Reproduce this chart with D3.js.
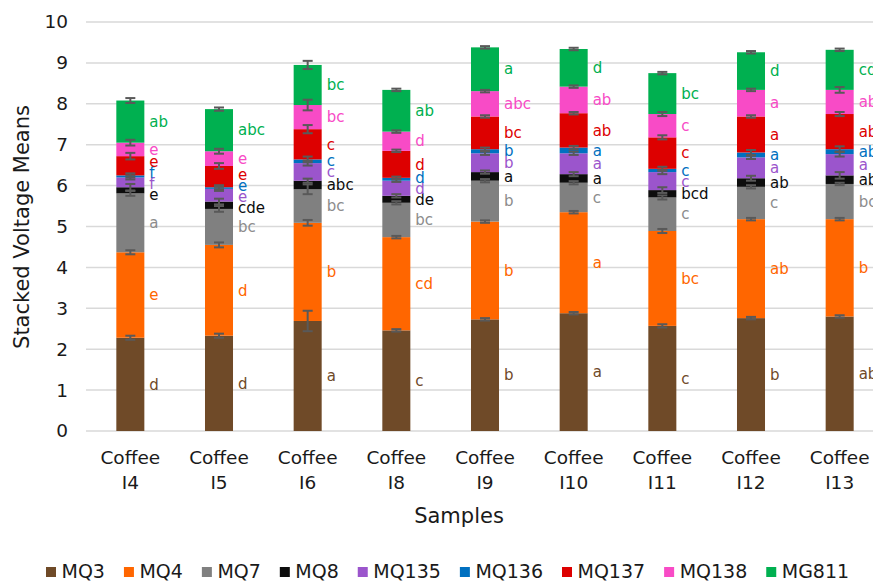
<!DOCTYPE html>
<html>
<head>
<meta charset="utf-8">
<script src="https://cdn.jsdelivr.net/npm/d3@7/dist/d3.min.js"></script>
<style>
  html, body { margin: 0; padding: 0; background: #fff; }
  svg { display: block; font-family: "DejaVu Sans", Verdana, sans-serif; }
</style>
</head>
<body>
<svg id="chart" width="873" height="581"></svg>
<script>
// Samples (x categories)
const samples = ["I4", "I5", "I6", "I8", "I9", "I10", "I11", "I12", "I13"];
const sampleLine1 = "Coffee";

// Sensor series, stacked bottom to top
const sensors = ["MQ3", "MQ4", "MQ7", "MQ8", "MQ135", "MQ136", "MQ137", "MQ138", "MG811"];
const sensorColors = ["#6f4a28", "#ff6600", "#808080", "#0d0d0d", "#9b55cc", "#0070c0", "#dd0000", "#f84bc6", "#00b050"];
const letterColors = ["#6f4a28", "#ff6600", "#8c8c8c", "#0d0d0d", "#9b55cc", "#0070c0", "#dd0000", "#f84bc6", "#00b050"];

// Mean voltage per sensor, one array per sensor, in sample order
const MQ3   = [2.28, 2.33, 2.69, 2.46, 2.73, 2.88, 2.57, 2.76, 2.80];
const MQ4   = [2.09, 2.22, 2.40, 2.28, 2.39, 2.47, 2.32, 2.42, 2.38];
const MQ7   = [1.44, 0.88, 0.82, 0.84, 1.00, 0.72, 0.82, 0.79, 0.86];
const MQ8   = [0.15, 0.18, 0.21, 0.17, 0.21, 0.21, 0.18, 0.21, 0.21];
const MQ135 = [0.24, 0.31, 0.43, 0.37, 0.46, 0.51, 0.44, 0.51, 0.52];
const MQ136 = [0.05, 0.04, 0.09, 0.07, 0.10, 0.14, 0.08, 0.12, 0.12];
const MQ137 = [0.47, 0.52, 0.74, 0.66, 0.80, 0.84, 0.77, 0.88, 0.86];
const MQ138 = [0.33, 0.36, 0.59, 0.47, 0.62, 0.65, 0.57, 0.65, 0.59];
const MG811 = [1.03, 1.03, 0.98, 1.02, 1.07, 0.92, 1.00, 0.92, 0.98];
const means = [MQ3, MQ4, MQ7, MQ8, MQ135, MQ136, MQ137, MQ138, MG811];

// Error (± half range) per sensor
const errMQ3   = [0.05, 0.05, 0.25, 0.03, 0.03, 0.03, 0.04, 0.03, 0.03];
const errMQ4   = [0.05, 0.06, 0.07, 0.03, 0.03, 0.03, 0.05, 0.03, 0.03];
const errMQ7   = [0.06, 0.07, 0.12, 0.04, 0.04, 0.04, 0.05, 0.04, 0.03];
const errMQ8   = [0.08, 0.07, 0.05, 0.04, 0.04, 0.05, 0.07, 0.06, 0.08];
const errMQ135 = [0.05, 0.05, 0.06, 0.03, 0.04, 0.04, 0.05, 0.04, 0.06];
const errMQ136 = [0.05, 0.05, 0.07, 0.03, 0.04, 0.04, 0.05, 0.06, 0.07];
const errMQ137 = [0.08, 0.07, 0.10, 0.03, 0.03, 0.03, 0.05, 0.03, 0.05];
const errMQ138 = [0.07, 0.06, 0.13, 0.03, 0.03, 0.03, 0.05, 0.03, 0.07];
const errMG811 = [0.06, 0.04, 0.10, 0.03, 0.03, 0.03, 0.03, 0.03, 0.03];
const errors = [errMQ3, errMQ4, errMQ7, errMQ8, errMQ135, errMQ136, errMQ137, errMQ138, errMG811];

// Significance letters per sensor
const letMQ3   = ["d", "d", "a", "c", "b", "a", "c", "b", "ab"];
const letMQ4   = ["e", "d", "b", "cd", "b", "a", "bc", "ab", "b"];
const letMQ7   = ["a", "bc", "bc", "bc", "b", "c", "c", "c", "bc"];
const letMQ8   = ["e", "cde", "abc", "de", "a", "a", "bcd", "ab", "ab"];
const letMQ135 = ["f", "e", "c", "d", "b", "a", "c", "a", "a"];
const letMQ136 = ["f", "e", "c", "d", "b", "a", "c", "a", "ab"];
const letMQ137 = ["e", "e", "c", "d", "bc", "ab", "c", "a", "ab"];
const letMQ138 = ["e", "e", "bc", "d", "abc", "ab", "c", "a", "ab"];
const letMG811 = ["ab", "abc", "bc", "ab", "a", "d", "bc", "d", "cd"];
const letters = [letMQ3, letMQ4, letMQ7, letMQ8, letMQ135, letMQ136, letMQ137, letMQ138, letMG811];

const yTicks = [0, 1, 2, 3, 4, 5, 6, 7, 8, 9, 10];

const svg = d3.select("#chart");

const x = d3.scaleBand()
  .domain(samples)
  .range([86, 884])
  .paddingInner(0.684)
  .paddingOuter(0.342);

const y = d3.scaleLinear().domain([0, 10]).range([431, 22]);

// Gridlines
svg.append("g")
  .selectAll("line")
  .data(yTicks)
  .join("line")
  .attr("x1", 86).attr("x2", 884)
  .attr("y1", d => y(d)).attr("y2", d => y(d))
  .attr("stroke", "#d9d9d9")
  .attr("stroke-width", 1.5);

// Y axis tick labels
const yAxis = d3.axisLeft(y).tickValues(yTicks).tickSize(0).tickPadding(0);
const yg = svg.append("g").attr("transform", "translate(68,0)").call(yAxis);
yg.select(".domain").remove();
yg.selectAll("text")
  .attr("font-size", 18.5)
  .attr("font-family", "DejaVu Sans, Verdana, sans-serif")
  .attr("fill", "#1a1a1a");

// Stack the series
const rows = samples.map((s, i) => {
  const r = { sample: s };
  sensors.forEach((k, j) => { r[k] = means[j][i]; });
  return r;
});
const stacked = d3.stack().keys(sensors)(rows);

// Bars
const layers = svg.append("g").selectAll("g")
  .data(stacked)
  .join("g")
  .attr("fill", (d, j) => sensorColors[j]);

layers.selectAll("rect")
  .data(d => d)
  .join("rect")
  .attr("x", d => x(d.data.sample))
  .attr("width", x.bandwidth())
  .attr("y", d => y(d[1]))
  .attr("height", d => y(d[0]) - y(d[1]));

// Error bars at the top of each segment
const eg = svg.append("g").attr("stroke", "#595959").attr("stroke-width", 2);
stacked.forEach((layer, j) => {
  layer.forEach((d, i) => {
    const cx = x(d.data.sample) + x.bandwidth() / 2;
    const e = errors[j][i];
    const top = y(d[1] + e), bot = y(d[1] - e);
    eg.append("line").attr("x1", cx).attr("x2", cx).attr("y1", top).attr("y2", bot);
    eg.append("line").attr("x1", cx - 5).attr("x2", cx + 5).attr("y1", top).attr("y2", top);
    eg.append("line").attr("x1", cx - 5).attr("x2", cx + 5).attr("y1", bot).attr("y2", bot);
  });
});

// Letters beside each segment, spread apart where segments are thin
const lg = svg.append("g").attr("font-size", 15);
samples.forEach((s, i) => {
  const items = stacked.map((layer, j) => ({
    j,
    text: letters[j][i],
    yy: (y(layer[i][0]) + y(layer[i][1])) / 2
  }));
  items.sort((a, b) => b.yy - a.yy);
  const gap = 11;
  for (let it = 0; it < 200; it++) {
    let moved = false;
    for (let k = 1; k < items.length; k++) {
      const d = items[k - 1].yy - items[k].yy;
      if (d < gap) {
        const push = (gap - d) / 2;
        items[k - 1].yy += push;
        items[k].yy -= push;
        moved = true;
      }
    }
    if (!moved) break;
  }
  items.forEach(o => {
    lg.append("text")
      .attr("x", x(s) + x.bandwidth() + 5)
      .attr("y", o.yy)
      .attr("dy", "0.35em")
      .attr("fill", letterColors[o.j])
      .text(o.text);
  });
});

// X axis category labels
const xl = svg.append("g").attr("font-size", 18.5).attr("fill", "#1a1a1a").attr("text-anchor", "middle");
samples.forEach(s => {
  const cx = x(s) + x.bandwidth() / 2;
  xl.append("text").attr("x", cx).attr("y", 464).text(sampleLine1);
  xl.append("text").attr("x", cx).attr("y", 489).text(s);
});

// Axis titles
svg.append("text")
  .attr("x", 459).attr("y", 523)
  .attr("text-anchor", "middle")
  .attr("font-size", 21)
  .attr("fill", "#1a1a1a")
  .text("Samples");

svg.append("text")
  .attr("transform", "translate(29,227) rotate(-90)")
  .attr("text-anchor", "middle")
  .attr("font-size", 21)
  .attr("fill", "#1a1a1a")
  .text("Stacked Voltage Means");

// Legend
const leg = svg.append("g");
let lx = 46;
sensors.forEach((k, j) => {
  leg.append("rect").attr("x", lx).attr("y", 567).attr("width", 10).attr("height", 10).attr("fill", sensorColors[j]);
  const t = leg.append("text")
    .attr("x", lx + 15.5).attr("y", 578)
    .attr("font-size", 19)
    .attr("fill", "#1a1a1a")
    .text(k);
  lx += 15.5 + t.node().getComputedTextLength() + 19;
});
</script>
</body>
</html>
